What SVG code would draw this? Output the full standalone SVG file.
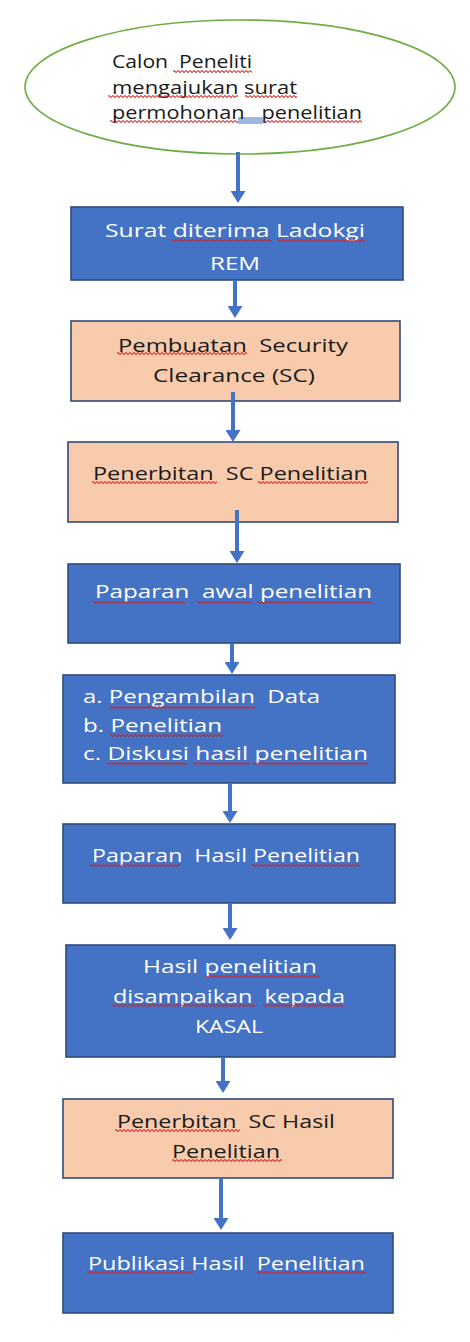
<svg xmlns="http://www.w3.org/2000/svg" width="470" height="1342" viewBox="0 0 470 1342">
<style>
.t{font-family:"Open Sans","Liberation Sans",sans-serif;font-size:18px;white-space:pre}
.w{fill:#ffffff}
.k{fill:#1a1a1a}
.blue{fill:#4472C4;stroke:#2F4A7A;stroke-width:1.6}
.peach{fill:#F8CBAD;stroke:#2F4A7A;stroke-width:1.6}
.arr{stroke:#4472C4;stroke-width:4;fill:none;marker-end:url(#ah)}
</style>
<defs>
<marker id="ah" markerUnits="userSpaceOnUse" viewBox="0 0 12 15" markerWidth="12" markerHeight="15" refX="4" refY="7.5" orient="auto">
<path d="M0,0 L12,7.5 L0,15 z" fill="#4472C4"/>
</marker>
<pattern id="wv" patternUnits="userSpaceOnUse" width="4" height="3">
<path d="M0,1.5 Q1,0 2,1.5 T4,1.5" fill="none" stroke="#D42020" stroke-width="1.2"/>
</pattern>
</defs>
<g id="start">
<ellipse cx="240" cy="87" rx="215" ry="67" fill="#ffffff" stroke="#70AD47" stroke-width="1.6"/>
<rect x="238" y="117" width="25" height="7" fill="#9DB6E0"/>
<text class="t k" x="112" y="68" textLength="140" lengthAdjust="spacingAndGlyphs">Calon  Peneliti</text>
<text class="t k" x="112" y="94" textLength="185" lengthAdjust="spacingAndGlyphs">mengajukan surat</text>
<text class="t k" x="112" y="119" textLength="250" lengthAdjust="spacingAndGlyphs">permohonan   penelitian</text>
</g>
<g id="n1">
<rect class="blue" x="71" y="207" width="332" height="73"/>
<text class="t w" x="105" y="237" textLength="260" lengthAdjust="spacingAndGlyphs">Surat diterima Ladokgi</text>
<text class="t w" x="210" y="270" textLength="50" lengthAdjust="spacingAndGlyphs">REM</text>
</g>
<g id="n2">
<rect class="peach" x="71" y="321" width="329" height="80"/>
<text class="t k" x="118" y="352" textLength="230" lengthAdjust="spacingAndGlyphs">Pembuatan  Security</text>
<text class="t k" x="153" y="382" textLength="162" lengthAdjust="spacingAndGlyphs">Clearance (SC)</text>
</g>
<g id="n3">
<rect class="peach" x="68" y="442" width="330" height="80"/>
<text class="t k" x="93" y="480" textLength="275" lengthAdjust="spacingAndGlyphs">Penerbitan  SC Penelitian</text>
</g>
<g id="n4">
<rect class="blue" x="68" y="564" width="332" height="79"/>
<text class="t w" x="95" y="598" textLength="277" lengthAdjust="spacingAndGlyphs">Paparan  awal penelitian</text>
</g>
<g id="n5">
<rect class="blue" x="63" y="675" width="332" height="108"/>
<text class="t w" x="83" y="703" textLength="237" lengthAdjust="spacingAndGlyphs">a. Pengambilan  Data</text>
<text class="t w" x="83" y="732" textLength="139" lengthAdjust="spacingAndGlyphs">b. Penelitian</text>
<text class="t w" x="83" y="760" textLength="285" lengthAdjust="spacingAndGlyphs">c. Diskusi hasil penelitian</text>
</g>
<g id="n6">
<rect class="blue" x="63" y="824" width="332" height="79"/>
<text class="t w" x="92" y="862" textLength="268" lengthAdjust="spacingAndGlyphs">Paparan  Hasil Penelitian</text>
</g>
<g id="n7">
<rect class="blue" x="66" y="945" width="329" height="112"/>
<text class="t w" x="143" y="973" textLength="174" lengthAdjust="spacingAndGlyphs">Hasil penelitian</text>
<text class="t w" x="113" y="1003" textLength="232" lengthAdjust="spacingAndGlyphs">disampaikan  kepada</text>
<text class="t w" x="195" y="1033" textLength="68" lengthAdjust="spacingAndGlyphs">KASAL</text>
</g>
<g id="n8">
<rect class="peach" x="63" y="1099" width="330" height="79"/>
<text class="t k" x="117" y="1128" textLength="218" lengthAdjust="spacingAndGlyphs">Penerbitan  SC Hasil</text>
<text class="t k" x="172" y="1158" textLength="108" lengthAdjust="spacingAndGlyphs">Penelitian</text>
</g>
<g id="n9">
<rect class="blue" x="63" y="1233" width="330" height="80"/>
<text class="t w" x="88" y="1270" textLength="277" lengthAdjust="spacingAndGlyphs">Publikasi Hasil  Penelitian</text>
</g>
<g id="spellcheck" fill="url(#wv)">
<rect transform="translate(173,70)" width="79" height="3"/>
<rect transform="translate(108,95)" width="130" height="3"/>
<rect transform="translate(245,95)" width="52" height="3"/>
<rect transform="translate(110,120)" width="128" height="3"/>
<rect transform="translate(263,120)" width="99" height="3"/>
<rect transform="translate(172,239)" width="100" height="3"/>
<rect transform="translate(277,239)" width="88" height="3"/>
<rect transform="translate(117,352)" width="130" height="3"/>
<rect transform="translate(92,481)" width="125" height="3"/>
<rect transform="translate(258,481)" width="110" height="3"/>
<rect transform="translate(93,601)" width="92" height="3"/>
<rect transform="translate(197,601)" width="55" height="3"/>
<rect transform="translate(257,601)" width="115" height="3"/>
<rect transform="translate(110,706)" width="145" height="3"/>
<rect transform="translate(110,734)" width="113" height="3"/>
<rect transform="translate(107,762)" width="80" height="3"/>
<rect transform="translate(193,762)" width="57" height="3"/>
<rect transform="translate(253,762)" width="115" height="3"/>
<rect transform="translate(90,864)" width="90" height="3"/>
<rect transform="translate(252,864)" width="108" height="3"/>
<rect transform="translate(205,975)" width="115" height="3"/>
<rect transform="translate(112,1004)" width="143" height="3"/>
<rect transform="translate(263,1004)" width="80" height="3"/>
<rect transform="translate(115,1129)" width="125" height="3"/>
<rect transform="translate(172,1159)" width="110" height="3"/>
<rect transform="translate(87,1271)" width="106" height="3"/>
<rect transform="translate(257,1271)" width="109" height="3"/>
</g>
<g id="connectors">
<line class="arr" x1="238" y1="152" x2="238" y2="195"/>
<line class="arr" x1="235" y1="280" x2="235" y2="310"/>
<line class="arr" x1="233" y1="392" x2="233" y2="434"/>
<line class="arr" x1="237" y1="510" x2="237" y2="555"/>
<line class="arr" x1="232" y1="643" x2="232" y2="666"/>
<line class="arr" x1="230" y1="783" x2="230" y2="815"/>
<line class="arr" x1="230" y1="903" x2="230" y2="932"/>
<line class="arr" x1="223" y1="1057" x2="223" y2="1085"/>
<line class="arr" x1="221" y1="1178" x2="221" y2="1222"/>
</g>
</svg>
